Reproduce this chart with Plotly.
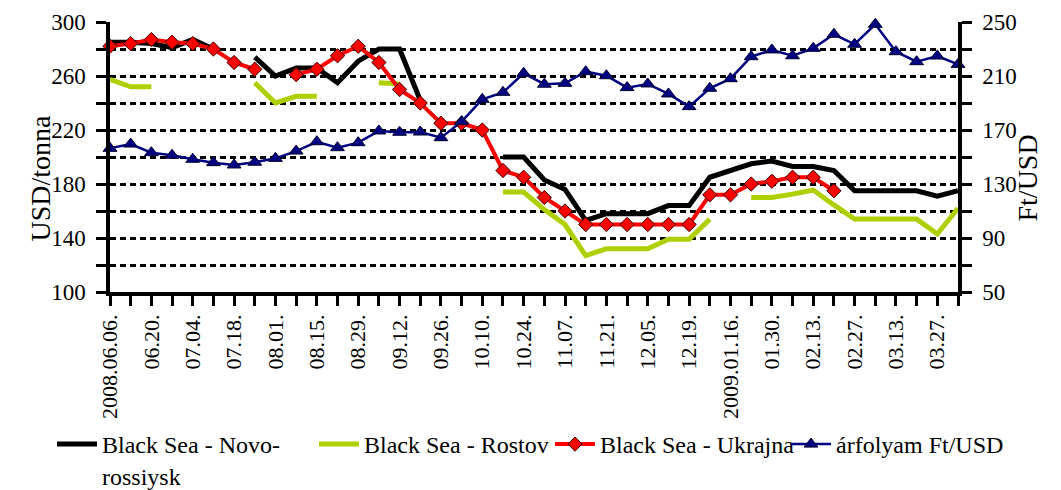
import plotly.graph_objects as go

dates = ["2008.06.06.", "06.13.", "06.20.", "06.27.", "07.04.", "07.11.", "07.18.", "07.25.",
         "08.01.", "08.08.", "08.15.", "08.22.", "08.29.", "09.05.", "09.12.", "09.19.",
         "09.26.", "10.03.", "10.10.", "10.17.", "10.24.", "10.31.", "11.07.", "11.14.",
         "11.21.", "11.28.", "12.05.", "12.12.", "12.19.", "2009.01.09.", "2009.01.16.", "01.23.",
         "01.30.", "02.06.", "02.13.", "02.20.", "02.27.", "03.06.", "03.13.", "03.20.",
         "03.27.", "04.03."]

novo = [285, 285, 284, 281, 287, 280, None, 274, 260, 266, 266, 255, 271, 280, 280, 242,
        None, None, None, 200, 200, 183, 176, 153, 158, 158, 158, 164, 164, 185, 190, 195,
        197, 193, 193, 190, 175, 175, 175, 175, 171, 175]

rostov = [257.5, 252, 252, None, None, None, None, 255, 240, 245, 245, None, None, 255, 254, None,
          None, None, None, 174, 174, 161, 150, 127, 132, 132, 132, 139, 139, 154, None, 170,
          170, 172.5, 175.5, 164.5, 154, 154, 154, 154, 143, 162]

ukrajna = [282, 284, 287, 285, 284, 280, 270, 265, None, 261, 265, 275, 282, 270, 250, 240,
           225, 225, 220, 190, 185, 170, 160, 150, 150, 150, 150, 150, 150, 172, 172, 180,
           182, 185, 185, 175, None, None, None, None, None, None]

arfolyam = [156.4, 159.6, 153.2, 151.3, 148.3, 145.8, 144.1, 146.1, 149.0, 154.4, 161.3, 156.9,
            160.6, 169.3, 168.3, 168.5, 164.3, 176.2, 192.7, 197.9, 212.0, 203.9, 204.6, 213.2,
            210.2, 201.4, 204.1, 196.7, 187.3, 200.9, 208.0, 224.3, 229.3, 225.0, 230.5, 240.9,
            233.5, 248.3, 228.0, 220.6, 224.8, 218.6]

left_ticks = [100, 120, 140, 160, 180, 200, 220, 240, 260, 280, 300]
left_labels = ["100", "", "140", "", "180", "", "220", "", "260", "", "300"]
right_ticks = [50, 70, 90, 110, 130, 150, 170, 190, 210, 230, 250]
right_labels = ["50", "", "90", "", "130", "", "170", "", "210", "", "250"]

x_labels = [d if i % 2 == 0 else "" for i, d in enumerate(dates)]

FONT = "Liberation Serif, Times New Roman, serif"
OFF = 8  # default page body margin
W, H = 1061 - OFF, 490 - OFF
L, T = 110 - OFF, 22 - OFF
PW, PH = 848, 270
R, B = W - L - PW, H - T - PH


def px_x(page_x):
    return (page_x - OFF - L) / PW


def px_y(page_y):
    return (T + PH - (page_y - OFF)) / PH


fig = go.Figure()
fig.add_trace(go.Scatter(x=dates, y=novo, mode="lines", name="Black Sea - Novo-<br>rossiysk",
                         line=dict(color="black", width=5), cliponaxis=False, legend="legend"))
fig.add_trace(go.Scatter(x=dates, y=rostov, mode="lines", name="Black Sea - Rostov",
                         line=dict(color="#AFCF00", width=5), cliponaxis=False, legend="legend2"))
fig.add_trace(go.Scatter(x=dates, y=ukrajna, mode="lines+markers", name="Black Sea - Ukrajna",
                         line=dict(color="#FF0000", width=4),
                         marker=dict(symbol="diamond", size=11, color="#FF0000",
                                     line=dict(color="#3a0000", width=1)),
                         cliponaxis=False, legend="legend2"))
fig.add_trace(go.Scatter(x=dates, y=arfolyam, mode="lines+markers", name="árfolyam Ft/USD",
                         yaxis="y2", line=dict(color="#000080", width=2.5),
                         marker=dict(symbol="triangle-up", size=12, color="#000080",
                                     line=dict(color="#000030", width=1)),
                         cliponaxis=False, legend="legend2"))

grid = dict(showgrid=True, gridcolor="black", gridwidth=2.5, griddash="6px,4px")
legfont = dict(family=FONT, size=24, color="black")

fig.update_layout(
    width=W, height=H,
    margin=dict(l=L, r=R, t=T, b=B, autoexpand=False),
    paper_bgcolor="white", plot_bgcolor="white",
    font=dict(family=FONT, size=23, color="black"),
    showlegend=True,
    legend=dict(orientation="h", x=px_x(52), xanchor="left", y=px_y(422), yanchor="top",
                font=legfont, itemwidth=40, valign="top", bgcolor="rgba(0,0,0,0)"),
    legend2=dict(orientation="h", x=px_x(314), xanchor="left", y=px_y(422), yanchor="top",
                 font=legfont, itemwidth=40, valign="top", entrywidthmode="pixels",
                 entrywidth=181, bgcolor="rgba(0,0,0,0)"),
    xaxis=dict(type="category", range=[0, len(dates) - 1], tickmode="array",
               tickvals=dates, ticktext=x_labels, tickangle=-90, automargin=False,
               showline=True, linecolor="black", linewidth=3.5,
               ticks="outside", ticklen=10, tickwidth=3, tickcolor="black",
               tickfont=dict(family=FONT, size=22), showgrid=False, zeroline=False),
    yaxis=dict(range=[100, 300], tickmode="array", tickvals=left_ticks, ticktext=left_labels,
               showline=True, linecolor="black", linewidth=3.5, automargin=False,
               ticks="outside", ticklen=10, tickwidth=3, tickcolor="black",
               ticklabelstandoff=6,
               tickfont=dict(family=FONT, size=23), zeroline=False, **grid),
    yaxis2=dict(range=[50, 250], overlaying="y", side="right", tickmode="array",
                tickvals=right_ticks, ticktext=right_labels, automargin=False,
                showline=True, linecolor="black", linewidth=3.5,
                ticks="outside", ticklen=10, tickwidth=3, tickcolor="black",
                ticklabelstandoff=6,
                tickfont=dict(family=FONT, size=23), showgrid=False, zeroline=False),
    annotations=[
        dict(text="USD/tonna", xref="paper", yref="paper", x=px_x(23), y=px_y(178),
             textangle=-90, showarrow=False, font=dict(family=FONT, size=28)),
        dict(text="Ft/USD", xref="paper", yref="paper", x=px_x(1045), y=px_y(178),
             textangle=-90, showarrow=False, font=dict(family=FONT, size=28)),
    ],
)

fig.write_html("out.html")
